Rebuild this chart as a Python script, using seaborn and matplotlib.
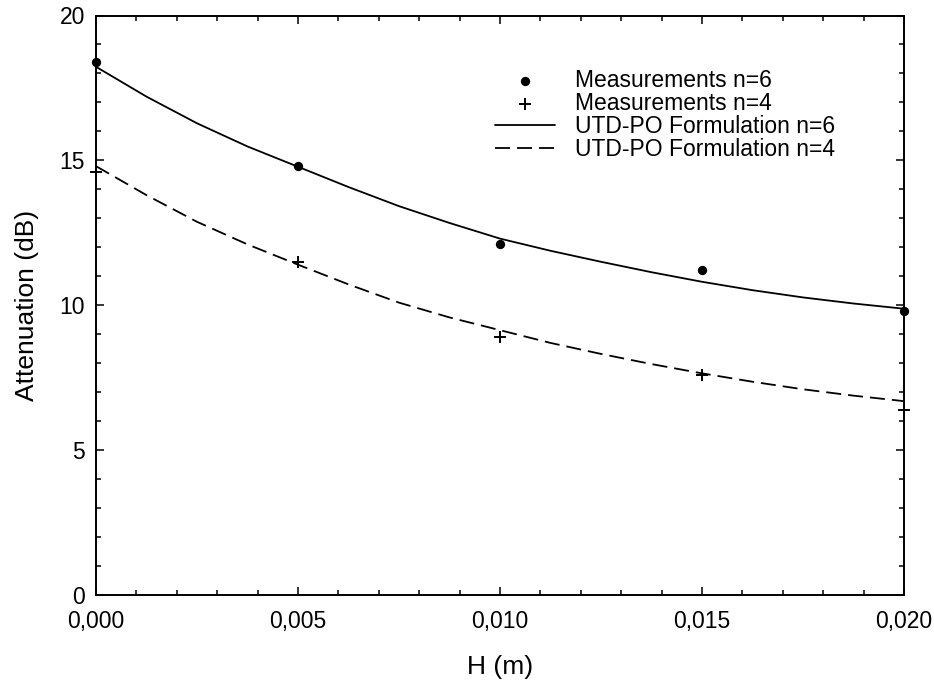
import matplotlib
matplotlib.use("Agg")
import matplotlib.pyplot as plt
import seaborn as sns
import pandas as pd
from matplotlib.ticker import MultipleLocator, FixedLocator, FixedFormatter

# ---- data ----
h_meas = [0.000, 0.005, 0.010, 0.015, 0.020]
meas_n6 = [18.40, 14.80, 12.10, 11.20, 9.80]
meas_n4 = [14.60, 11.50, 8.90, 7.58, 6.38]

h_curve = [0.00000, 0.00125, 0.00250, 0.00375, 0.00500, 0.00625, 0.00750,
           0.00875, 0.01000, 0.01125, 0.01250, 0.01375, 0.01500, 0.01625,
           0.01750, 0.01875, 0.02000]
utd_n6 = [18.23, 17.20, 16.28, 15.48, 14.78, 14.08, 13.42, 12.84, 12.30,
          11.88, 11.50, 11.14, 10.81, 10.52, 10.27, 10.06, 9.88]
utd_n4 = [14.80, 13.80, 12.88, 12.10, 11.40, 10.72, 10.09, 9.58, 9.14,
          8.70, 8.32, 7.97, 7.65, 7.36, 7.10, 6.88, 6.69]

x_ticks = [0.000, 0.005, 0.010, 0.015, 0.020]
x_tick_labels = ["0,000", "0,005", "0,010", "0,015", "0,020"]
y_ticks = [0, 5, 10, 15, 20]
y_tick_labels = ["0", "5", "10", "15", "20"]

labels = ["Measurements n=6", "Measurements n=4",
          "UTD-PO Formulation n=6", "UTD-PO Formulation n=4"]

# ---- style ----
sns.set_theme(style="ticks")
plt.rcParams["font.family"] = ["Liberation Sans", "DejaVu Sans"]

fig = plt.figure(figsize=(9.34, 6.83), dpi=100)
ax = fig.add_axes([96 / 934, (683 - 595) / 683, 808 / 934, 579.5 / 683])

df_c6 = pd.DataFrame({"H": h_curve, "A": utd_n6})
df_c4 = pd.DataFrame({"H": h_curve, "A": utd_n4})
df_m6 = pd.DataFrame({"H": h_meas, "A": meas_n6})
df_m4 = pd.DataFrame({"H": h_meas, "A": meas_n4})

lw = 1.3
sns.lineplot(data=df_c6, x="H", y="A", ax=ax, color="black", lw=lw,
             label=labels[2], zorder=2)
sns.lineplot(data=df_c4, x="H", y="A", ax=ax, color="black", lw=lw,
             dashes=False, label=labels[3], zorder=2)
ax.lines[-1].set_dashes((15 * 0.72 / lw, 7 * 0.72 / lw))
sns.scatterplot(data=df_m6, x="H", y="A", ax=ax, color="black", marker="o",
                s=45, edgecolor="black", linewidth=0, label=labels[0],
                zorder=3, clip_on=False)
sns.scatterplot(data=df_m4, x="H", y="A", ax=ax, color="black", marker="+",
                s=75, linewidth=1.4, label=labels[1], zorder=3, clip_on=False)

ax.set_xlim(0, 0.020)
ax.set_ylim(0, 20)
ax.xaxis.set_major_locator(FixedLocator(x_ticks))
ax.xaxis.set_major_formatter(FixedFormatter(x_tick_labels))
ax.yaxis.set_major_locator(FixedLocator(y_ticks))
ax.yaxis.set_major_formatter(FixedFormatter(y_tick_labels))
ax.xaxis.set_minor_locator(MultipleLocator(0.001))
ax.yaxis.set_minor_locator(MultipleLocator(1))

for s in ax.spines.values():
    s.set_visible(True)
    s.set_linewidth(1.4)
    s.set_color("black")

ax.tick_params(which="both", direction="in", top=True, right=True,
               color="black", width=1.1)
ax.tick_params(which="major", length=6, labelsize=16.5, labelcolor="black")
ax.tick_params(which="minor", length=3.8)
ax.tick_params(axis="x", which="major", pad=11)
ax.tick_params(axis="y", which="major", pad=8)

ax.set_xlabel("H (m)", fontsize=19, color="black")
ax.set_ylabel("Attenuation (dB)", fontsize=19, color="black")
ax.xaxis.set_label_coords(0.5, -0.104)
ax.yaxis.set_label_coords(-0.071, 0.5)

handles, labs = ax.get_legend_handles_labels()
order = [labs.index(l) for l in labels]
leg = ax.legend([handles[i] for i in order], [labs[i] for i in order],
                loc="upper left", bbox_to_anchor=(495 / 934, 1 - 69 / 683),
                bbox_transform=fig.transFigure, frameon=False, fontsize=16.5,
                handlelength=2.62, handletextpad=0.87, labelspacing=0.0,
                borderpad=0, borderaxespad=0)
for t in leg.get_texts():
    t.set_color("black")

fig.savefig("out.png", dpi=100, facecolor="white")
